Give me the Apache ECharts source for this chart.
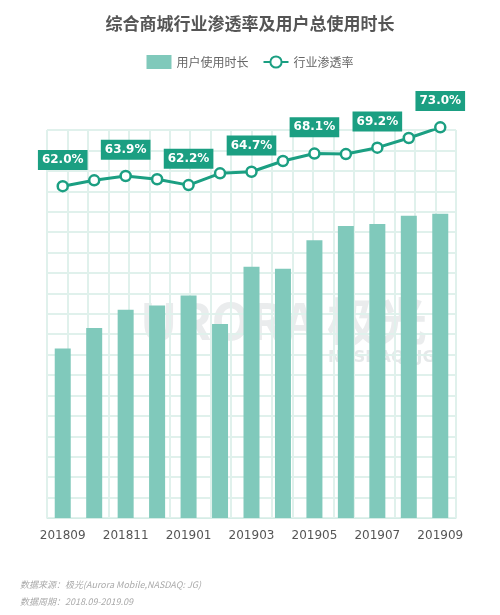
<!DOCTYPE html>
<html><head><meta charset="utf-8">
<script src="https://cdn.jsdelivr.net/npm/echarts@6/dist/echarts.min.js"></script>
<style>body{margin:0}#main{width:500px;height:615px}</style>
</head><body><div id="main"></div>
<script>
var categories = ['201809','201810','201811','201812','201901','201902','201903','201904','201905','201906','201907','201908','201909'];
var usageHours = [83, 93, 102, 104, 109, 95, 123, 122, 136, 143, 144, 148, 149];
var penetration = [62.0, 63.1, 63.9, 63.3, 62.2, 64.4, 64.7, 66.7, 68.1, 68.0, 69.2, 71.0, 73.0];

var myChart = echarts.init(document.getElementById('main'));
var barColor = '#80c9bb';
var lineColor = '#1b9f82';

var lineData = penetration.map(function (v, i) {
    return { value: v, label: { show: i % 2 === 0 } };
});

var option = {
    backgroundColor: '#fff',
    color: [barColor, lineColor],
    title: {
        text: '综合商城行业渗透率及用户总使用时长',
        left: 'center', top: 10,
        textStyle: { fontSize: 17, fontWeight: 'bold', color: '#555', fontFamily: 'Noto Sans CJK SC' }
    },
    legend: {
        top: 50, left: 'center', itemGap: 14,
        textStyle: { color: '#666', fontSize: 12, fontFamily: 'Noto Sans CJK SC' },
        data: [
            { name: '用户使用时长', icon: 'rect' },
            { name: '行业渗透率' }
        ]
    },
    grid: { left: 47, right: 44, top: 130, bottom: 97 },
    graphic: [
        { type: 'text', left: 140, top: 296, style: { text: 'URORA 极光', fontSize: 50, fontWeight: 'bold', fill: 'rgba(170,178,182,0.25)', fontFamily: 'Noto Sans CJK SC' } },
        { type: 'text', left: 328, top: 350, style: { text: 'NASDAQ: JG', fontSize: 16, fontWeight: 'bold', fill: 'rgba(170,178,182,0.3)', fontFamily: 'DejaVu Sans' } },
        { type: 'text', left: 20, top: 580, style: { text: '数据来源：极光(Aurora Mobile,NASDAQ: JG)', fontSize: 9, fontStyle: 'italic', fill: '#aaa', fontFamily: 'Noto Sans CJK SC' } },
        { type: 'text', left: 20, top: 597, style: { text: '数据周期：2018.09-2019.09', fontSize: 9, fontStyle: 'italic', fill: '#aaa', fontFamily: 'Noto Sans CJK SC' } }
    ],
    xAxis: [
        {
            type: 'category', data: categories,
            axisLine: { lineStyle: { color: '#d5ece6' } },
            axisTick: { show: false },
            axisLabel: { interval: 1, color: '#555', fontSize: 12, margin: 12, fontFamily: 'DejaVu Sans' },
            splitLine: { show: false }
        },
        {
            type: 'value', min: 0, max: 20, interval: 1, position: 'bottom',
            axisLine: { show: false }, axisTick: { show: false }, axisLabel: { show: false },
            splitLine: { show: true, lineStyle: { color: '#e0f1ec', width: 2 } }
        }
    ],
    yAxis: [
        {
            type: 'value', min: 0, max: 190, interval: 10,
            axisLine: { show: false }, axisTick: { show: false }, axisLabel: { show: false },
            splitLine: { lineStyle: { color: '#e0f1ec', width: 2 } }
        },
        {
            type: 'value', min: 0, max: 72.5, show: false, splitLine: { show: false }
        }
    ],
    series: [
        {
            name: '用户使用时长', type: 'bar', data: usageHours,
            barWidth: 16, itemStyle: { color: barColor }
        },
        {
            name: '行业渗透率', type: 'line', yAxisIndex: 1, data: lineData,
            clip: false, symbol: 'circle', symbolSize: 10,
            lineStyle: { color: lineColor, width: 3 },
            itemStyle: { color: '#fff', borderColor: lineColor, borderWidth: 2.5 },
            label: {
                position: 'top', distance: 10,
                formatter: function (p) { return p.value.toFixed(1) + '%'; },
                backgroundColor: lineColor, color: '#fff', fontSize: 12, fontWeight: 'bold',
                padding: [4, 4], fontFamily: 'DejaVu Sans'
            }
        }
    ]
};
myChart.setOption(option);
</script>
</body></html>
